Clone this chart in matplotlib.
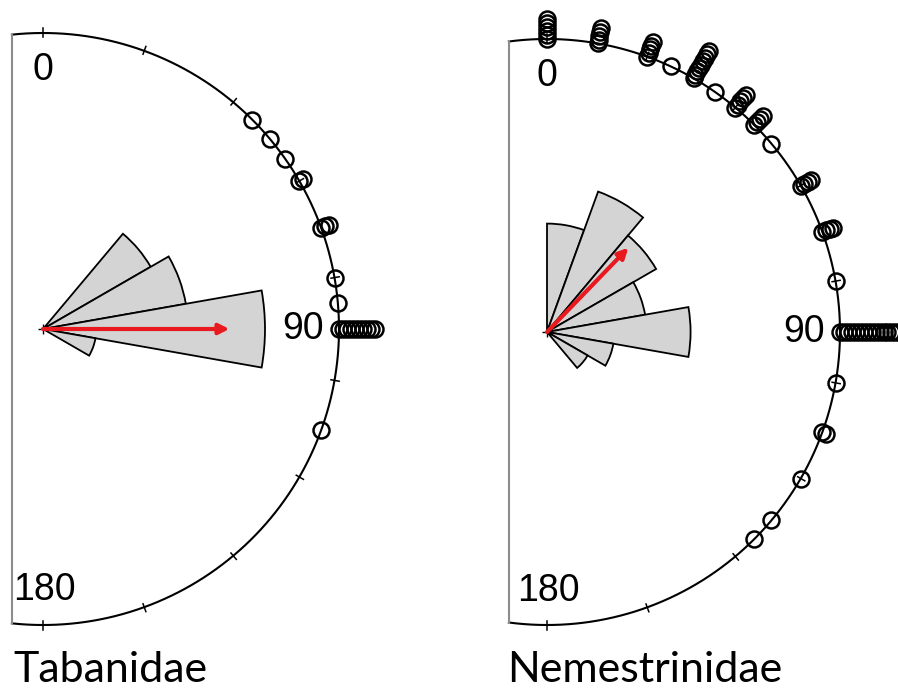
import numpy as np
import matplotlib.pyplot as plt
from matplotlib.patches import Wedge

plt.rcParams['font.family'] = ['Liberation Sans', 'DejaVu Sans']

# Tabanidae: observed directions (deg, 0 = top, clockwise) and how many at each
tab_angles = [45, 50, 55, 60, 70, 80, 85, 90, 110]
tab_counts = [1, 1, 1, 2, 3, 1, 1, 10, 1]
tab_bins = [40, 60, 80, 100]          # left edge of each 20 deg rose bin
tab_rose = [0.42, 0.49, 0.75, 0.18]   # rose length (circle radius = 1)
tab_mean_dir = 90
tab_mean_len = 0.63

# Nemestrinidae
nem_angles = [0, 10, 20, 25, 30, 35, 40, 45, 50, 60, 70, 80, 90, 100, 110, 120, 130, 135]
nem_counts = [6, 5, 5, 1, 9, 1, 5, 4, 1, 4, 4, 1, 16, 1, 2, 1, 1, 1]
nem_bins = [0, 20, 40, 60, 80, 100, 120]
nem_rose = [0.37, 0.51, 0.43, 0.34, 0.49, 0.23, 0.16]
nem_mean_dir = 44
nem_mean_len = 0.40

tick_deg = np.arange(0, 181, 20)
bin_width = 20
stack_step = 0.0135


def xy(deg, r):
    t = np.deg2rad(deg)
    return r * np.sin(t), r * np.cos(t)


def draw_panel(ax, angles, counts, bins, rose, mdir, mlen, clip_x, title, title_xy):
    # rose diagram
    for b, L in zip(bins, rose):
        w = Wedge((0, 0), L, 90 - (b + bin_width), 90 - b,
                  facecolor='#d4d4d4', edgecolor='black', lw=1.3, zorder=1)
        ax.add_patch(w)
    ax.plot(0, 0, marker='+', color='black', ms=7, mew=1, zorder=3)

    # mean vector
    mx, my = xy(mdir, mlen)
    ax.annotate('', xy=(mx, my), xytext=(0, 0),
                arrowprops=dict(arrowstyle='-|>', color='#e8191f', lw=3,
                                mutation_scale=15, shrinkA=0, shrinkB=0),
                zorder=4)

    # outer circle, clipped on the left by a vertical line
    t0 = np.rad2deg(np.arcsin(clip_x))
    th = np.linspace(t0, 180 - t0, 400)
    cx, cy = xy(th, 1.0)
    ax.plot(cx, cy, color='black', lw=1.5, zorder=2)
    ax.plot([clip_x, clip_x], [cy[0], cy[-1]], color='#8c8c8c', lw=1.5, zorder=2)
    for d in tick_deg:
        tx, ty = xy(d, np.array([0.988, 1.016]))
        ax.plot(tx, ty, color='black', lw=1.1, zorder=2)

    # stacked data points
    for a, n in zip(angles, counts):
        r = 1 + stack_step * np.arange(n)
        px, py = xy(a, r)
        ax.plot(px, py, 'o', mfc='none', mec='black', ms=11.5, mew=1.8,
                zorder=5, clip_on=False)

    ax.text(0, 0.875, '0', fontsize=27, ha='center', va='center')
    ax.text(0.877, 0, '90', fontsize=27, ha='center', va='center')
    ax.text(-0.102, -0.883, '180', fontsize=27, ha='left', va='center')
    ax.text(title_xy[0], title_xy[1], title, fontsize=31, family=['Lato', 'DejaVu Sans'],
            ha='left', va='baseline')
    ax.axis('off')


fig = plt.figure(figsize=(8.98, 6.91), dpi=100)

# left panel: centre at pixel (43, 329), radius 296 px
ax1 = fig.add_axes([0, 0, 449 / 898, 1])
ax1.set_xlim((0 - 43) / 296, (449 - 43) / 296)
ax1.set_ylim((329 - 691) / 296, 329 / 296)
draw_panel(ax1, tab_angles, tab_counts, tab_bins, tab_rose, tab_mean_dir, tab_mean_len,
           -0.105, 'Tabanidae', ((13 - 43) / 296, (329 - 682) / 296))

# right panel: centre at pixel (547, 332), radius 293 px
ax2 = fig.add_axes([449 / 898, 0, 449 / 898, 1])
ax2.set_xlim((449 - 547) / 293, (898 - 547) / 293)
ax2.set_ylim((332 - 691) / 293, 332 / 293)
draw_panel(ax2, nem_angles, nem_counts, nem_bins, nem_rose, nem_mean_dir, nem_mean_len,
           -0.13, 'Nemestrinidae', ((507 - 547) / 293, (332 - 682) / 293))

fig.savefig('out.png', dpi=100)
